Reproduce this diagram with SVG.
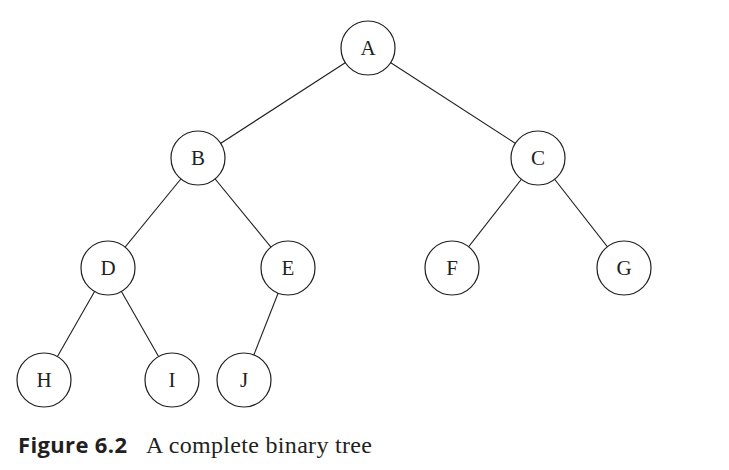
<svg xmlns="http://www.w3.org/2000/svg" width="729" height="470" viewBox="0 0 729 470">
<style>
.n circle{fill:#fff;stroke:#231f20;stroke-width:1.2}
.n text{font-family:"Liberation Serif",serif;font-size:21px;fill:#231f20;text-anchor:middle;dominant-baseline:central}
#edges line{stroke:#231f20;stroke-width:1.1}
</style>
<rect width="729" height="470" fill="#fff"/>
<g id="edges">
<line x1="368" y1="48" x2="198" y2="158"/>
<line x1="368" y1="48" x2="538" y2="158"/>
<line x1="198" y1="158" x2="108" y2="268"/>
<line x1="198" y1="158" x2="288" y2="268"/>
<line x1="538" y1="158" x2="452" y2="268"/>
<line x1="538" y1="158" x2="624" y2="268"/>
<line x1="108" y1="268" x2="44" y2="380"/>
<line x1="108" y1="268" x2="172" y2="380"/>
<line x1="288" y1="268" x2="244" y2="380"/>
</g>
<g id="A" class="n"><circle cx="368" cy="48" r="27"/><text x="368" y="48">A</text></g>
<g id="B" class="n"><circle cx="198" cy="158" r="27"/><text x="198" y="158">B</text></g>
<g id="C" class="n"><circle cx="538" cy="158" r="27"/><text x="538" y="158">C</text></g>
<g id="D" class="n"><circle cx="108" cy="268" r="27"/><text x="108" y="268">D</text></g>
<g id="E" class="n"><circle cx="288" cy="268" r="27"/><text x="288" y="268">E</text></g>
<g id="F" class="n"><circle cx="452" cy="268" r="27"/><text x="452" y="268">F</text></g>
<g id="G" class="n"><circle cx="624" cy="268" r="27"/><text x="624" y="268">G</text></g>
<g id="H" class="n"><circle cx="44" cy="380" r="27"/><text x="44" y="380">H</text></g>
<g id="I" class="n"><circle cx="172" cy="380" r="27"/><text x="172" y="380">I</text></g>
<g id="J" class="n"><circle cx="244" cy="380" r="27"/><text x="244" y="380">J</text></g>
<text x="18" y="453" font-family="'Open Sans',sans-serif" font-weight="bold" font-size="22" fill="#231f20" textLength="109">Figure 6.2</text>
<text x="146" y="453" font-family="'Liberation Serif',serif" font-size="24" fill="#231f20" textLength="226">A complete binary tree</text>
</svg>
